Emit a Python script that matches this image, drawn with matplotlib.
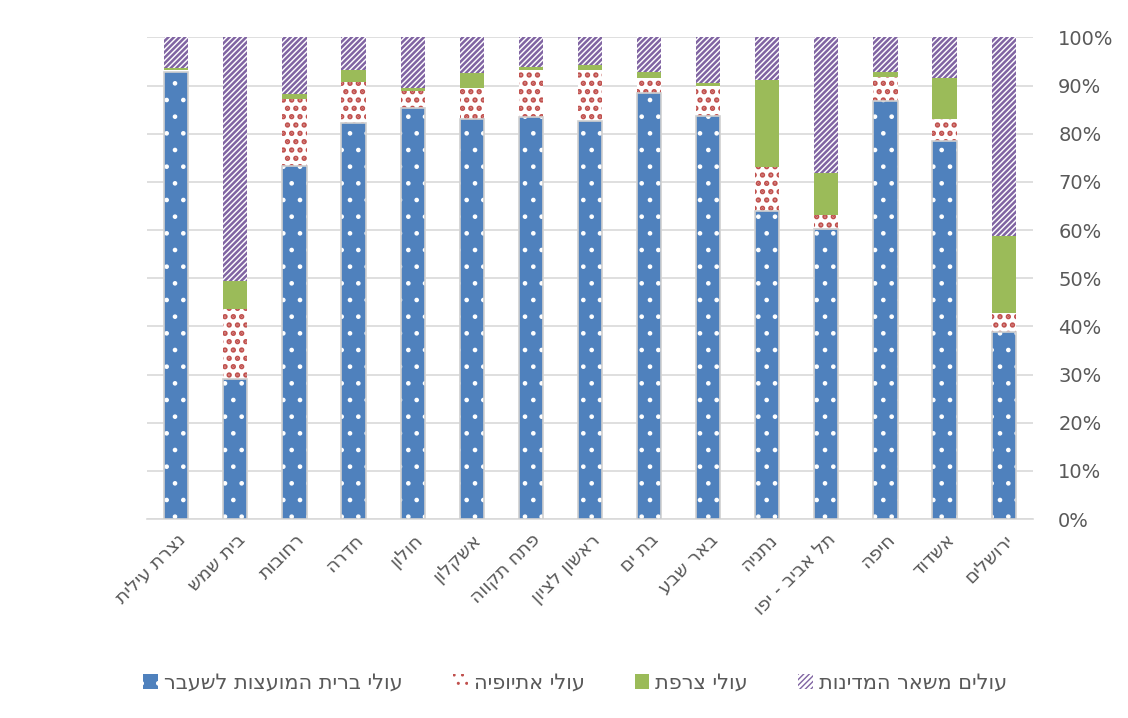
import numpy as np
import matplotlib.pyplot as plt
from matplotlib.patches import Patch
from matplotlib.ticker import PercentFormatter

plt.rcParams['font.family'] = ['DejaVu Sans']

# cities, left to right as in the picture
cities = ["נצרת עילית", "בית שמש", "רחובות", "חדרה", "חולון", "אשקלון",
          "פתח תקווה", "ראשון לציון", "בת ים", "באר שבע", "נתניה",
          "תל אביב - יפו", "חיפה", "אשדוד", "ירושלים"]

# shares in percent
fsu = [92.8, 29.0, 73.2, 82.2, 85.3, 83.0, 83.4, 82.6, 88.4, 83.7, 63.9, 60.3, 86.7, 78.5, 38.8]
ethiopia = [0.4, 14.6, 14.1, 8.6, 3.6, 6.4, 9.8, 10.6, 3.1, 6.1, 9.2, 2.9, 5.1, 4.5, 4.0]
france = [0.4, 5.8, 0.9, 2.5, 0.6, 3.1, 0.6, 1.0, 1.4, 0.7, 18.0, 8.7, 1.1, 8.6, 15.9]
other = [6.4, 50.6, 11.8, 6.7, 10.5, 7.5, 6.2, 5.8, 7.1, 9.5, 8.9, 28.1, 7.1, 8.4, 41.3]

series_names = ["עולי ברית המועצות לשעבר", "עולי אתיופיה", "עולי צרפת", "עולים משאר המדינות"]


def heb(s):
    # matplotlib has no bidi support, so flip to visual order
    return s[::-1]


# (face, hatch colour, hatch, hatch linewidth)
styles = [("#4F81BD", "white", ".", 0.9),
          ("white", "#C0504D", "..", 2.6),
          ("#9BBB59", "#9BBB59", None, 1.0),
          ("white", "#8064A2", "//////", 1.8)]


def set_hlw(patches, lw):
    for p in patches:
        if hasattr(p, "set_hatch_linewidth"):
            p.set_hatch_linewidth(lw)


fig = plt.figure(figsize=(11.28, 7.18), dpi=100)
ax = fig.add_axes([0.130, 0.277, 0.786, 0.671])

x = np.arange(len(cities))
w = 0.41
bottom = np.zeros(len(cities))
for vals, (fc, hc, hatch, hlw) in zip([fsu, ethiopia, france, other], styles):
    vals = np.array(vals)
    with plt.rc_context({'hatch.linewidth': hlw}):
        bars = ax.bar(x, vals, w, bottom=bottom, facecolor=fc, edgecolor=hc,
                      hatch=hatch, linewidth=0, zorder=3)
    set_hlw(bars, hlw)
    bottom += vals

# light outline around the blue segment
ax.bar(x, fsu, w, facecolor="none", edgecolor="#d0d0d0", linewidth=1.2, zorder=4)

ax.set_xlim(-0.5, len(cities) - 0.5)
ax.set_ylim(0, 100)
ax.set_yticks(np.arange(0, 101, 10))
ax.yaxis.set_major_formatter(PercentFormatter(decimals=0))
ax.yaxis.tick_right()
ax.grid(axis='y', color="#d9d9d9", linewidth=1.2, zorder=0)
for s in ['top', 'left', 'right']:
    ax.spines[s].set_visible(False)
ax.spines['bottom'].set_color("#d9d9d9")
ax.spines['bottom'].set_linewidth(1.2)
ax.tick_params(axis='y', length=0, labelsize=14, colors="#595959", pad=18)
ax.tick_params(axis='x', length=0, pad=8)

ax.set_xticks(x)
ax.set_xticklabels([heb(c) for c in cities], rotation=45, ha='right',
                   rotation_mode='anchor', fontsize=13.5, color="#595959")

handles = []
for fc, hc, hatch, hlw in styles:
    with plt.rc_context({'hatch.linewidth': hlw}):
        h = Patch(facecolor=fc, edgecolor=hc, hatch=hatch, linewidth=0)
    set_hlw([h], hlw)
    handles.append(h)
fig.legend(handles, [heb(n) for n in series_names], loc='center',
           bbox_to_anchor=(0.51, 0.049), ncol=4, frameon=False, fontsize=15,
           handlelength=0.7, handleheight=0.7, handletextpad=0.3,
           columnspacing=2.4, labelcolor="#595959")

fig.savefig("out.png", dpi=100)
